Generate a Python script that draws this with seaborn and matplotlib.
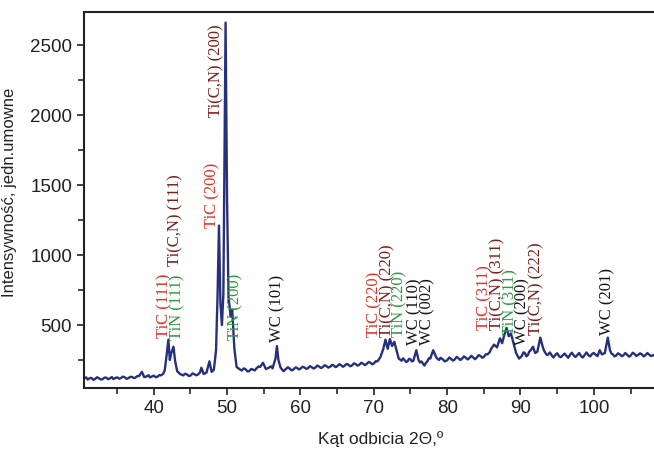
import numpy as np
import pandas as pd
import matplotlib
matplotlib.use("Agg")
import matplotlib.pyplot as plt
import seaborn as sns
from matplotlib.ticker import MultipleLocator

two_theta = [30.5, 30.8, 31.0, 31.3, 31.5, 31.8, 32.0, 32.3, 32.5, 32.8, 33.0, 33.3, 33.5, 33.8, 34.0,
             34.3, 34.5, 34.8, 35.0, 35.3, 35.5, 35.8, 36.0, 36.3, 36.5, 36.8, 37.0, 37.3, 37.5, 37.8,
             38.0, 38.4, 38.7, 39.0, 39.3, 39.5, 39.8, 40.0, 40.3, 40.5, 40.8, 41.0, 41.3, 41.5, 41.8,
             42.0, 42.2, 42.4, 42.7, 42.9, 43.2, 43.6, 44.0, 44.3, 44.5, 44.8, 45.0, 45.3, 45.5, 45.8,
             46.0, 46.3, 46.5, 46.8, 47.2, 47.6, 47.9, 48.2, 48.5, 48.7, 48.9, 49.1, 49.3, 49.5, 49.8,
             50.0, 50.2, 50.5, 50.7, 51.0, 51.3, 51.7, 52.0, 52.3, 52.5, 52.8, 53.0, 53.3, 53.5, 53.8,
             54.0, 54.3, 54.5, 54.9, 55.3, 55.7, 56.0, 56.2, 56.6, 56.8, 57.0, 57.3, 57.7, 58.0, 58.3,
             58.5, 58.8, 59.0, 59.3, 59.5, 59.8, 60.0, 60.3, 60.5, 60.8, 61.0, 61.3, 61.5, 61.8, 62.0,
             62.3, 62.5, 62.8, 63.0, 63.3, 63.5, 63.8, 64.0, 64.3, 64.5, 64.8, 65.0, 65.3, 65.5, 65.8,
             66.0, 66.3, 66.5, 66.8, 67.0, 67.3, 67.5, 67.8, 68.0, 68.3, 68.5, 68.8, 69.0, 69.3, 69.5,
             69.8, 70.0, 70.3, 70.5, 70.9, 71.3, 71.6, 71.9, 72.2, 72.5, 72.8, 73.1, 73.4, 73.8, 74.0,
             74.2, 74.4, 74.6, 74.8, 75.0, 75.2, 75.4, 75.8, 76.1, 76.3, 76.5, 76.7, 76.9, 77.1, 77.3,
             77.5, 77.7, 78.1, 78.5, 78.7, 78.9, 79.1, 79.4, 79.7, 80.0, 80.3, 80.5, 80.8, 81.0, 81.3,
             81.5, 81.8, 82.0, 82.3, 82.5, 82.8, 83.0, 83.3, 83.5, 83.8, 84.0, 84.3, 84.5, 84.8, 85.0,
             85.3, 85.5, 85.8, 86.0, 86.4, 86.8, 87.2, 87.5, 87.8, 88.1, 88.4, 88.7, 89.0, 89.4, 89.8,
             90.0, 90.2, 90.4, 90.6, 90.8, 91.0, 91.2, 91.4, 91.7, 92.0, 92.3, 92.7, 93.0, 93.2, 93.4,
             93.6, 93.8, 94.0, 94.3, 94.5, 94.8, 95.0, 95.3, 95.5, 95.8, 96.0, 96.3, 96.5, 96.8, 97.0,
             97.3, 97.5, 97.8, 98.0, 98.3, 98.5, 98.8, 99.0, 99.3, 99.5, 99.8, 100.0, 100.3, 100.5, 100.8,
             101.1, 101.5, 101.9, 102.2, 102.4, 102.6, 102.8, 103.0, 103.3, 103.5, 103.8, 104.0, 104.3, 104.5, 104.8,
             105.0, 105.3, 105.5, 105.8, 106.0, 106.3, 106.5, 106.8, 107.0, 107.3, 107.5, 107.8, 108.2]
intensity = [118, 126, 110, 121, 122, 108, 115, 127, 120, 111, 112, 124, 125, 113, 118,
             128, 114, 122, 126, 117, 120, 131, 128, 116, 119, 129, 130, 121, 124, 136,
             135, 165, 128, 132, 141, 126, 133, 138, 127, 130, 143, 140, 152, 175, 300,
             395, 250, 300, 345, 250, 170, 150, 140, 152, 148, 136, 138, 154, 150, 141,
             145, 160, 195, 150, 160, 240, 165, 180, 320, 700, 1210, 650, 500, 720, 2660,
             1400, 700, 560, 610, 330, 200, 185, 175, 190, 185, 168, 170, 186, 182, 176,
             190, 204, 200, 230, 185, 195, 205, 190, 260, 350, 250, 195, 170, 185, 198,
             190, 176, 180, 196, 195, 183, 188, 202, 198, 187, 190, 206, 200, 189, 195,
             210, 205, 193, 198, 212, 208, 196, 200, 215, 212, 199, 205, 220, 215, 202,
             208, 222, 218, 205, 210, 226, 222, 210, 215, 230, 225, 214, 220, 236, 232,
             219, 225, 242, 240, 270, 330, 395, 330, 400, 350, 380, 320, 260, 245, 262,
             250, 236, 240, 258, 255, 240, 245, 320, 250, 232, 240, 225, 210, 228, 240,
             262, 260, 320, 270, 258, 250, 266, 255, 240, 248, 268, 260, 246, 252, 272,
             265, 250, 258, 276, 268, 254, 262, 280, 270, 256, 265, 285, 280, 266, 272,
             292, 290, 305, 330, 360, 340, 405, 370, 430, 480, 420, 440, 380, 300, 260,
             270, 280, 305, 300, 276, 285, 310, 320, 345, 300, 310, 410, 350, 318, 300,
             286, 290, 304, 280, 268, 290, 298, 275, 270, 285, 296, 278, 266, 290, 302,
             280, 272, 288, 300, 275, 268, 290, 304, 282, 276, 295, 300, 285, 278, 320,
             290, 300, 410, 320, 296, 290, 276, 280, 298, 292, 278, 282, 300, 290, 274,
             280, 302, 295, 279, 285, 298, 292, 276, 283, 300, 290, 278, 286]

peak_labels = ["TiC (111)", "TiN (111)", "Ti(C,N) (111)", "TiC (200)", "Ti(C,N) (200)", "TiN (200)",
               "WC (101)", "TiC (220)", "Ti(C,N) (220)", "TiN (220)", "WC (110)", "WC (002)",
               "TiC (311)", "Ti(C,N) (311)", "TiN (311)", "WC (200)", "Ti(C,N) (222)", "WC (201)"]
label_x = [41.5, 43.2, 42.9, 48.0, 48.6, 51.2, 56.9, 70.1, 71.8, 73.5, 75.5, 77.3,
           85.1, 86.8, 88.6, 90.3, 92.1, 101.9]
label_y = [407, 393, 920, 1193, 1985, 393, 380, 414, 414, 414, 357, 357,
           464, 464, 429, 357, 429, 429]
phase = ["TiC", "TiN", "TiCN", "TiC", "TiCN", "TiN", "WC", "TiC", "TiCN", "TiN", "WC", "WC",
         "TiC", "TiCN", "TiN", "WC", "TiCN", "WC"]
phase_colors = {"TiC": "#dc3329", "TiN": "#2f9a45", "TiCN": "#7a1f1c", "WC": "#151515"}

x_ticks = [40, 50, 60, 70, 80, 90, 100]
y_ticks = [500, 1000, 1500, 2000, 2500]

sns.set_style("ticks")
plt.rcParams['font.family'] = ['Liberation Sans Narrow', 'Liberation Sans', 'DejaVu Sans']

fig = plt.figure(figsize=(6.54, 4.5), dpi=100)
ax = fig.add_axes([84/654, 1 - 388/450, 1 - 84/654, (388 - 12)/450])

df = pd.DataFrame({"two_theta": two_theta, "intensity": intensity})
sns.lineplot(data=df, x="two_theta", y="intensity", ax=ax, color="#27307a", linewidth=1.7)

for txt, xx, yy, ph in zip(peak_labels, label_x, label_y, phase):
    ax.text(xx, yy, txt, rotation=90, ha="center", va="bottom", fontsize=12,
            color=phase_colors[ph], family=["Liberation Serif", "DejaVu Serif"])

ax.set_xlim(30.5, 108.2)
ax.set_ylim(50, 2736)
ax.set_xticks(x_ticks)
ax.set_yticks(y_ticks)
ax.xaxis.set_minor_locator(MultipleLocator(5))
ax.yaxis.set_minor_locator(MultipleLocator(250))
ax.tick_params(axis="both", which="major", length=5, width=1.2, labelsize=13.5, colors="#222222")
ax.tick_params(axis="both", which="minor", length=4, width=1.2)
for s in ["left", "bottom", "top"]:
    ax.spines[s].set_linewidth(1.5)
    ax.spines[s].set_color("#222222")
ax.spines["right"].set_visible(False)

label_font = ["Liberation Sans", "DejaVu Sans"]
ax.set_xlabel("Kąt odbicia 2Θ,º", fontsize=12.5, color="#222222", family=label_font)
ax.set_ylabel("Intensywność, jedn.umowne", fontsize=12, color="#222222", family=label_font)
ax.xaxis.set_label_coords((381 - 84) / 570, -0.115)
ax.yaxis.set_label_coords(-0.118, 0.52)

fig.savefig("out.png", dpi=100)
